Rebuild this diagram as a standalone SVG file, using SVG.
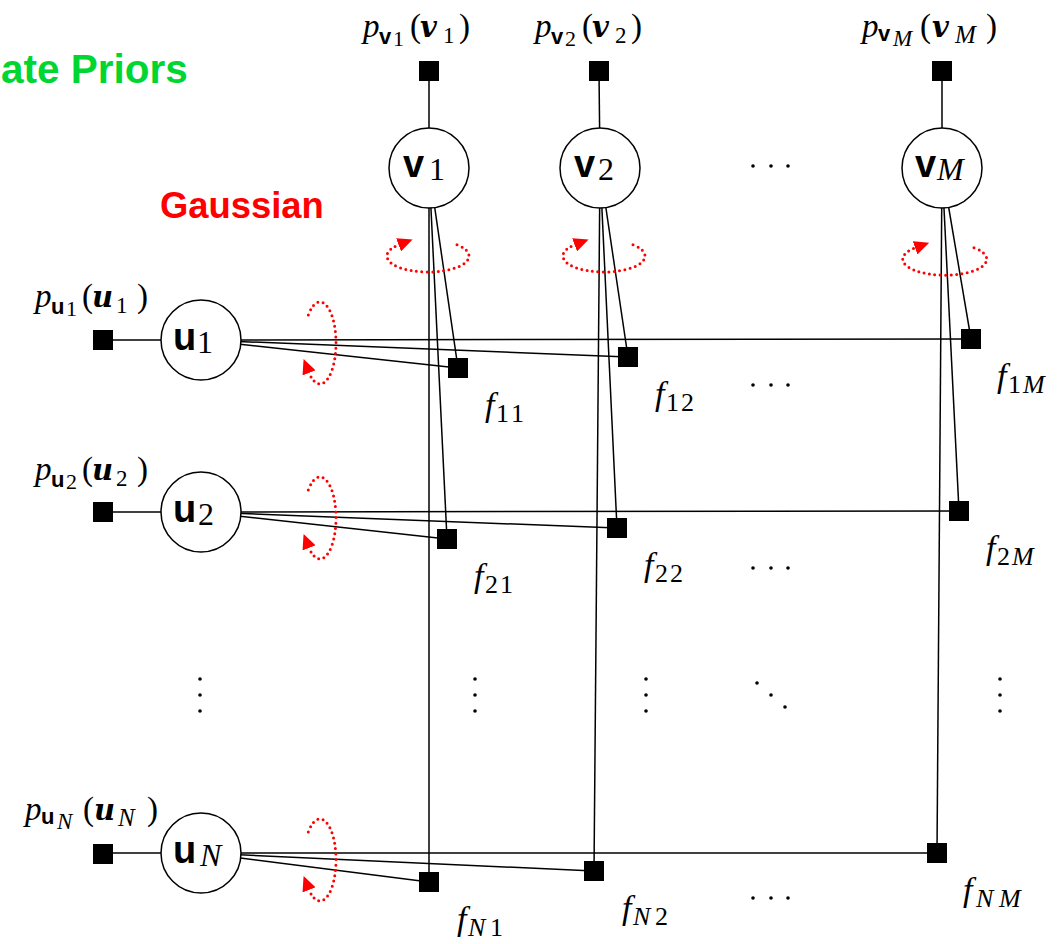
<svg xmlns="http://www.w3.org/2000/svg" width="1064" height="944" viewBox="0 0 1064 944">
<defs>
<style>
.ln{stroke:#000;stroke-width:1.5;fill:none}
.nd{fill:#fff;stroke:#000;stroke-width:1.5}
.fac{fill:#000}
.loop{fill:none;stroke:#f00;stroke-width:3;stroke-dasharray:0 5.4;stroke-linecap:round}
.m{font-family:"Liberation Serif","Times New Roman",serif;font-style:italic;fill:#000}
.r{font-family:"Liberation Serif","Times New Roman",serif;font-style:normal}
.bs{font-family:"Liberation Sans",Arial,sans-serif;font-weight:bold;font-style:normal}
.bi{font-family:"DejaVu Serif",serif;font-weight:bold;font-style:italic}
.it{font-family:"Liberation Serif","Times New Roman",serif;font-style:italic}
.dot{fill:#000}
.title{font-family:"Liberation Sans",Arial,sans-serif;font-weight:bold}
</style>
<marker id="ah" markerUnits="userSpaceOnUse" viewBox="0 0 15 14" markerWidth="15" markerHeight="14" refX="1" refY="7" orient="auto">
<path d="M0,0 L15,7 L0,14 z" fill="#f00"/>
</marker>
</defs>
<rect width="1064" height="944" fill="#fff"/>

<g id="headings">
<text class="title" x="1" y="83" font-size="40.5" fill="#00d632">ate Priors</text>
<text class="title" x="160" y="218" font-size="36.4" fill="#ff0000">Gaussian</text>
</g>

<g id="connectors">
<line class="ln" x1="429" y1="71" x2="429" y2="168"/>
<line class="ln" x1="599" y1="71" x2="600" y2="168"/>
<line class="ln" x1="942" y1="71" x2="942" y2="168"/>
<line class="ln" x1="103" y1="340" x2="201" y2="340"/>
<line class="ln" x1="103" y1="512" x2="201" y2="512"/>
<line class="ln" x1="103" y1="853" x2="201" y2="853"/>
<line class="ln" x1="429" y1="168" x2="458" y2="368"/>
<line class="ln" x1="429" y1="168" x2="447" y2="539"/>
<line class="ln" x1="429" y1="168" x2="429" y2="882"/>
<line class="ln" x1="600" y1="168" x2="628" y2="357"/>
<line class="ln" x1="600" y1="168" x2="617" y2="528"/>
<line class="ln" x1="600" y1="168" x2="594" y2="871"/>
<line class="ln" x1="942" y1="168" x2="971" y2="339"/>
<line class="ln" x1="942" y1="168" x2="959" y2="511"/>
<line class="ln" x1="942" y1="168" x2="937" y2="853"/>
<line class="ln" x1="201" y1="340" x2="458" y2="368"/>
<line class="ln" x1="201" y1="340" x2="628" y2="357"/>
<line class="ln" x1="201" y1="340" x2="971" y2="339"/>
<line class="ln" x1="201" y1="512" x2="447" y2="539"/>
<line class="ln" x1="201" y1="512" x2="617" y2="528"/>
<line class="ln" x1="201" y1="512" x2="959" y2="511"/>
<line class="ln" x1="201" y1="853" x2="429" y2="882"/>
<line class="ln" x1="201" y1="853" x2="594" y2="871"/>
<line class="ln" x1="201" y1="853" x2="937" y2="853"/>
</g>

<g id="pv1">
<rect class="fac" x="419" y="61" width="20" height="20"/>
<text class="m" font-size="33"><tspan x="363" y="37">p</tspan><tspan class="bs" x="379" y="44" font-size="22">v</tspan><tspan class="r" x="393" y="46" font-size="22">1</tspan><tspan class="r" x="410" y="37">(</tspan><tspan class="bi" x="420" y="37" font-size="29">v</tspan><tspan class="r" x="443" y="43" font-size="23">1</tspan><tspan class="r" x="459" y="37">)</tspan></text>
</g>
<g id="pv2">
<rect class="fac" x="589" y="61" width="20" height="20"/>
<text class="m" font-size="33"><tspan x="535" y="37">p</tspan><tspan class="bs" x="551" y="44" font-size="22">v</tspan><tspan class="r" x="565" y="46" font-size="22">2</tspan><tspan class="r" x="582" y="37">(</tspan><tspan class="bi" x="592" y="37" font-size="29">v</tspan><tspan class="r" x="615" y="43" font-size="23">2</tspan><tspan class="r" x="631" y="37">)</tspan></text>
</g>
<g id="pvM">
<rect class="fac" x="932" y="61" width="20" height="20"/>
<text class="m" font-size="33"><tspan x="862" y="37">p</tspan><tspan class="bs" x="878" y="41" font-size="22">v</tspan><tspan class="it" x="893" y="46" font-size="23">M</tspan><tspan class="r" x="920" y="37">(</tspan><tspan class="bi" x="932" y="37" font-size="29">v</tspan><tspan class="it" x="955" y="43" font-size="25">M</tspan><tspan class="r" x="986" y="37">)</tspan></text>
</g>

<g id="v1">
<circle class="nd" cx="429" cy="168" r="40"/>
<text x="403" y="177"><tspan class="bs" font-size="38">v</tspan><tspan class="r" x="429" y="180" font-size="32">1</tspan></text>
</g>
<g id="v2">
<circle class="nd" cx="600" cy="168" r="40"/>
<text x="574" y="177"><tspan class="bs" font-size="38">v</tspan><tspan class="r" x="598" y="180" font-size="32">2</tspan></text>
</g>
<g id="vM">
<circle class="nd" cx="942" cy="168" r="40"/>
<text x="915" y="177"><tspan class="bs" font-size="38">v</tspan><tspan class="it" x="937" y="180" font-size="32">M</tspan></text>
</g>

<g id="pu1">
<rect class="fac" x="93" y="330" width="20" height="20"/>
<text class="m" font-size="33"><tspan x="35" y="307">p</tspan><tspan class="bs" x="51" y="314" font-size="22">u</tspan><tspan class="r" x="66" y="316" font-size="22">1</tspan><tspan class="r" x="82" y="307">(</tspan><tspan class="bi" x="92" y="307" font-size="29">u</tspan><tspan class="r" x="116" y="313" font-size="23">1</tspan><tspan class="r" x="137" y="307">)</tspan></text>
</g>
<g id="pu2">
<rect class="fac" x="93" y="502" width="20" height="20"/>
<text class="m" font-size="33"><tspan x="35" y="480">p</tspan><tspan class="bs" x="51" y="487" font-size="22">u</tspan><tspan class="r" x="66" y="489" font-size="22">2</tspan><tspan class="r" x="82" y="480">(</tspan><tspan class="bi" x="92" y="480" font-size="29">u</tspan><tspan class="r" x="116" y="486" font-size="23">2</tspan><tspan class="r" x="137" y="480">)</tspan></text>
</g>
<g id="puN">
<rect class="fac" x="93" y="844" width="20" height="20"/>
<text class="m" font-size="33"><tspan x="25" y="820">p</tspan><tspan class="bs" x="41" y="824" font-size="22">u</tspan><tspan class="it" x="57" y="829" font-size="23">N</tspan><tspan class="r" x="83" y="820">(</tspan><tspan class="bi" x="94" y="820" font-size="29">u</tspan><tspan class="it" x="118" y="826" font-size="25">N</tspan><tspan class="r" x="147" y="820">)</tspan></text>
</g>

<g id="u1">
<circle class="nd" cx="201" cy="340" r="40"/>
<text x="173" y="350"><tspan class="bs" font-size="38">u</tspan><tspan class="r" x="197" y="353" font-size="32">1</tspan></text>
</g>
<g id="u2">
<circle class="nd" cx="201" cy="512" r="40"/>
<text x="173" y="522"><tspan class="bs" font-size="38">u</tspan><tspan class="r" x="198" y="525" font-size="32">2</tspan></text>
</g>
<g id="uN">
<circle class="nd" cx="201" cy="853" r="40"/>
<text x="173" y="863"><tspan class="bs" font-size="38">u</tspan><tspan class="it" x="200" y="866" font-size="32">N</tspan></text>
</g>

<g id="f11"><rect class="fac" x="448" y="358" width="20" height="20"/>
<text class="m" font-size="34"><tspan x="485" y="416">f</tspan><tspan class="r" x="496 511" y="422" font-size="26">11</tspan></text></g>
<g id="f12"><rect class="fac" x="618" y="347" width="20" height="20"/>
<text class="m" font-size="34"><tspan x="655" y="405">f</tspan><tspan class="r" x="666 681" y="411" font-size="26">12</tspan></text></g>
<g id="f1M"><rect class="fac" x="961" y="329" width="20" height="20"/>
<text class="m" font-size="34"><tspan x="997" y="387">f</tspan><tspan class="r" x="1008" y="393" font-size="26">1</tspan><tspan class="it" x="1023" y="393" font-size="26">M</tspan></text></g>
<g id="f21"><rect class="fac" x="437" y="529" width="20" height="20"/>
<text class="m" font-size="34"><tspan x="474" y="587">f</tspan><tspan class="r" x="485 500" y="593" font-size="26">21</tspan></text></g>
<g id="f22"><rect class="fac" x="607" y="518" width="20" height="20"/>
<text class="m" font-size="34"><tspan x="644" y="576">f</tspan><tspan class="r" x="655 670" y="582" font-size="26">22</tspan></text></g>
<g id="f2M"><rect class="fac" x="949" y="501" width="20" height="20"/>
<text class="m" font-size="34"><tspan x="986" y="559">f</tspan><tspan class="r" x="997" y="565" font-size="26">2</tspan><tspan class="it" x="1012" y="565" font-size="26">M</tspan></text></g>
<g id="fN1"><rect class="fac" x="419" y="872" width="20" height="20"/>
<text class="m" font-size="34"><tspan x="457" y="930">f</tspan><tspan class="it" x="468" y="936" font-size="26">N</tspan><tspan class="r" x="490" y="936" font-size="26">1</tspan></text></g>
<g id="fN2"><rect class="fac" x="584" y="861" width="20" height="20"/>
<text class="m" font-size="34"><tspan x="622" y="919">f</tspan><tspan class="it" x="633" y="925" font-size="26">N</tspan><tspan class="r" x="655" y="925" font-size="26">2</tspan></text></g>
<g id="fNM"><rect class="fac" x="927" y="843" width="20" height="20"/>
<text class="m" font-size="34"><tspan x="963" y="901">f</tspan><tspan class="it" x="976" y="907" font-size="26">N</tspan><tspan class="it" x="999" y="907" font-size="26">M</tspan></text></g>

<g id="loops">
<path class="loop" d="M457,244.7 A41,16 0 1 1 399.5,244.5" marker-end="url(#ah)"/>
<path class="loop" d="M633,244.7 A41,16 0 1 1 575.5,244.5" marker-end="url(#ah)"/>
<path class="loop" d="M974,247.7 A42,16 0 1 1 916,247.5" marker-end="url(#ah)"/>
<path class="loop" d="M308.3,315 A16,41 0 1 1 308.7,372" marker-end="url(#ah)"/>
<path class="loop" d="M308.3,490 A16,41 0 1 1 308.7,547" marker-end="url(#ah)"/>
<path class="loop" d="M308.3,832 A16,41 0 1 1 308.7,889" marker-end="url(#ah)"/>
</g>

<g id="ellipsis-dots">
<circle class="dot" cx="753" cy="166" r="1.8"/><circle class="dot" cx="771" cy="166" r="1.8"/><circle class="dot" cx="788" cy="166" r="1.8"/>
<circle class="dot" cx="753" cy="385" r="1.8"/><circle class="dot" cx="771" cy="385" r="1.8"/><circle class="dot" cx="788" cy="385" r="1.8"/>
<circle class="dot" cx="753" cy="568" r="1.8"/><circle class="dot" cx="771" cy="568" r="1.8"/><circle class="dot" cx="788" cy="568" r="1.8"/>
<circle class="dot" cx="753" cy="898" r="1.8"/><circle class="dot" cx="771" cy="898" r="1.8"/><circle class="dot" cx="788" cy="898" r="1.8"/>
<circle class="dot" cx="200" cy="679" r="1.8"/><circle class="dot" cx="200" cy="695" r="1.8"/><circle class="dot" cx="200" cy="711" r="1.8"/>
<circle class="dot" cx="475" cy="679" r="1.8"/><circle class="dot" cx="475" cy="695" r="1.8"/><circle class="dot" cx="475" cy="711" r="1.8"/>
<circle class="dot" cx="646" cy="679" r="1.8"/><circle class="dot" cx="646" cy="695" r="1.8"/><circle class="dot" cx="646" cy="711" r="1.8"/>
<circle class="dot" cx="1000" cy="679" r="1.8"/><circle class="dot" cx="1000" cy="695" r="1.8"/><circle class="dot" cx="1000" cy="711" r="1.8"/>
<circle class="dot" cx="757" cy="683" r="1.8"/><circle class="dot" cx="771" cy="695" r="1.8"/><circle class="dot" cx="785" cy="707" r="1.8"/>
</g>
</svg>
